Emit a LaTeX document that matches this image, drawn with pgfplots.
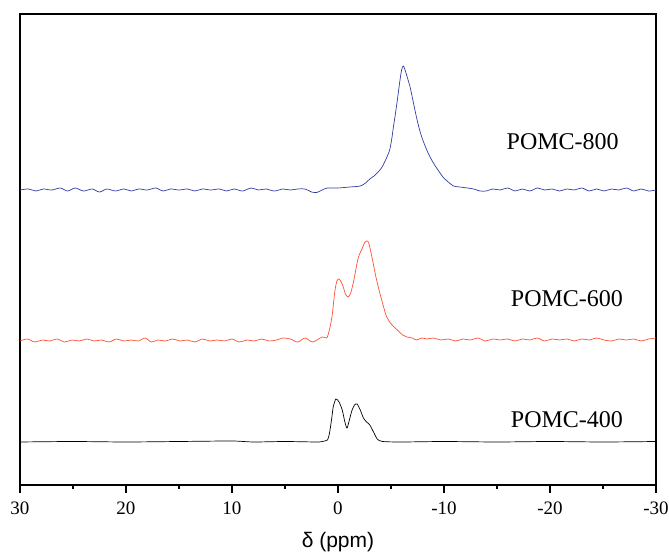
\documentclass[border=0pt]{standalone}
\usepackage{pgfplots}
\pgfplotsset{compat=1.18}
\usepackage{fontspec}
\setmainfont{Liberation Serif}
\setsansfont{Liberation Sans}

\definecolor{specblue}{RGB}{50,60,165}
\definecolor{specred}{RGB}{255,80,50}

\begin{document}
\begin{tikzpicture}
\begin{axis}[
  name=ax,
  width=636pt, height=471pt, scale only axis,
  xmin=-30, xmax=30, x dir=reverse,
  ymin=0, ymax=471,
  ytick=\empty,
  xtick={-30,-20,-10,0,10,20,30},
  xticklabels={-30,-20,-10,0,10,20,30},
  minor xtick={-25,-15,-5,5,15,25},
  tick align=outside,
  xtick pos=bottom,
  major tick length=8pt,
  minor tick length=4pt,
  axis line style={line width=1.6pt},
  every tick/.style={line width=1.6pt, black},
  xticklabel style={font=\fontsize{19}{22}\selectfont, inner xsep=0pt, yshift=-5pt},
  xlabel={δ (ppm)},
  xlabel style={font=\sffamily\fontsize{21}{24}\selectfont, yshift=-11pt},
  clip=true,
]
% POMC-800
\addplot [specblue, line width=0.7pt, smooth, tension=0.5] table {%
30 295
29.2 296
28.5 294
27.8 296
27 295
26.2 297
25.5 294
24.8 297
24 294
23.2 296
22.5 293
21.8 296
21 294
20.2 296
19.5 294
18.8 296
18 295
17.2 297
16.5 294
15.8 296
15 295
14.2 296
13.5 294
12.8 296
12 295
11.2 296
10.5 294
9.8 296
9 294
8.2 297
7.5 295
6.8 296
6 294
5.2 296
4.5 295
3.8 296
3.1 296
2.5 293
2.0 292.5
1.5 295
1.0 297
0 297
-1.1 298
-2.1 299
-2.6 302
-3.0 306
-3.4 309
-3.7 312
-4.1 317
-4.4 323
-4.7 330
-4.9 336
-5.1 348
-5.2 356
-5.4 370
-5.6 385
-5.85 405
-6.0 415
-6.15 419
-6.3 416
-6.5 409
-6.8 398
-7.1 383
-7.4 368
-7.7 355
-8.0 345
-8.5 332
-9.0 322
-9.5 314
-9.9 308
-10.4 303
-10.9 299
-11.5 298
-12.2 297
-12.8 296
-13.4 294
-14.0 294
-14.6 296
-15.3 295
-16.0 297
-16.7 294
-17.4 296
-18.1 294
-18.8 297
-19.5 295
-20.2 296
-20.9 294
-21.6 296
-22.3 295
-23.0 297
-23.7 294
-24.4 296
-25.1 294
-25.8 296
-26.5 295
-27.2 297
-27.9 294
-28.6 296
-29.3 294
-30 295
};
% POMC-600
\addplot [specred, line width=0.7pt, smooth, tension=0.5] table {%
30 144
29.3 146
28.6 143
27.9 145
27.2 144
26.5 146
25.8 143
25.1 145
24.4 144
23.7 146
23.0 144
22.3 145
21.6 143
20.9 146
20.2 144
19.5 145
18.8 144
18.2 147
17.6 143
17.0 145
16.3 144
15.6 146
14.9 144
14.2 145
13.5 143
12.8 146
12.1 144
11.4 145
10.7 144
10.0 146
9.3 143
8.6 145
7.9 144
7.2 146
6.5 144
5.8 145
5.2 147
4.5 146
3.8 143
3.1 147
2.4 143
1.5 148
1.1 147
0.94 150
0.75 158
0.57 168
0.4 184
0.28 195
0.1 204
-0.1 206
-0.3 203
-0.5 198
-0.7 191
-0.95 188
-1.2 192
-1.5 205
-1.8 222
-2.0 230
-2.3 237
-2.5 242
-2.7 244
-2.9 242
-3.2 228
-3.5 212
-3.8 198
-4.2 182
-4.6 168
-5.1 160
-5.6 155
-6.1 150
-6.5 148
-7.0 147
-7.4 145
-7.9 147
-8.4 146
-9.0 147
-9.7 145
-10.4 146
-11.1 144
-11.8 146
-12.5 145
-13.2 147
-13.9 144
-14.6 146
-15.3 145
-16.0 146
-16.7 144
-17.4 146
-18.1 145
-18.8 147
-19.5 144
-20.2 146
-20.9 145
-21.6 146
-22.3 144
-23.0 146
-23.7 145
-24.4 147
-25.1 145
-25.8 144
-26.5 146
-27.2 145
-27.9 146
-28.6 144
-29.3 146
-30 147
};
% POMC-400
\addplot [black, line width=0.7pt, smooth, tension=0.4] table {%
30 43
25 43.5
20 43
15 43.5
10 44
8 43
5 43.5
2 43
1.5 43.5
1.0 45
0.8 52
0.6 66
0.45 78
0.2 86
-0.1 83
-0.4 75
-0.65 63
-0.85 57
-1.05 64
-1.3 74
-1.55 80
-1.8 81
-2.1 75
-2.4 67
-2.7 63
-3.0 60
-3.4 52
-3.7 46
-4.2 43.5
-6 43
-10 43.5
-15 43
-20 43.5
-25 43
-30 43.5
};
\node[font=\fontsize{24}{28}\selectfont] at (axis cs:-21.2,343) {POMC-800};
\node[font=\fontsize{24}{28}\selectfont] at (axis cs:-21.6,186) {POMC-600};
\node[font=\fontsize{24}{28}\selectfont] at (axis cs:-21.6,65) {POMC-400};
\end{axis}
\pgfresetboundingbox
\path ([shift={(-20pt,-68pt)}]ax.south west) rectangle ([shift={(13pt,14pt)}]ax.north east);
\end{tikzpicture}
\end{document}
